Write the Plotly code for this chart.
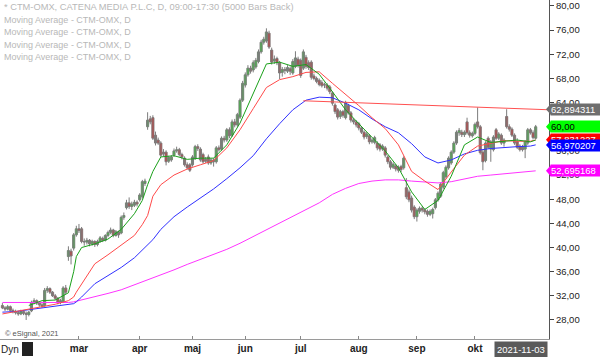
import pandas as pd
import plotly.graph_objects as go

# ---------------- categories (trading days) ----------------
holidays = ["2021-04-02", "2021-04-05", "2021-05-13", "2021-06-25"]
dates = [d.strftime("%Y-%m-%d") for d in pd.bdate_range("2021-01-19", "2021-11-03")
         if d.strftime("%Y-%m-%d") not in holidays]
future_dates = [d.strftime("%Y-%m-%d") for d in pd.bdate_range("2021-11-04", "2021-11-12")]

# ---------------- OHLC ----------------
opens = [30.4,30.0,29.8,30.2,29.6,29.4,29.2,29.0,29.4,29.1,28.9,29.5,30.9,31.2,30.8,30.5,30.4,32.9,33.2,32.6,
         32.0,31.6,30.9,31.0,33.3,38.5,39.4,39.9,42.1,43.1,43.1,41.0,40.9,41.2,40.6,41.0,40.5,41.0,41.5,41.2,
         42.0,42.5,42.9,42.0,42.6,42.4,45.0,46.6,47.4,46.8,47.0,47.5,47.9,48.4,50.6,60.0,61.3,61.5,58.6,57.8,
         57.3,55.8,55.8,54.3,54.5,55.3,56.0,56.2,55.4,54.8,53.7,53.7,53.7,54.8,56.7,56.3,55.4,54.6,55.0,54.0,
         54.5,54.2,56.5,56.3,58.1,57.8,59.5,58.6,60.8,60.3,61.6,64.4,66.9,68.6,69.7,69.4,69.9,70.8,72.4,74.0,
         74.2,75.5,72.7,70.9,71.3,70.6,69.0,69.5,69.2,69.6,68.9,70.0,71.2,71.0,69.7,71.5,70.6,70.7,68.4,68.0,
         67.7,67.3,67.0,66.9,66.6,65.6,63.6,62.8,61.7,62.5,61.5,63.5,62.3,61.1,60.8,60.5,59.8,59.1,58.4,58.5,
         57.5,57.4,57.3,57.0,56.3,56.5,55.0,54.2,53.3,53.5,53.3,53.4,53.2,49.9,49.2,48.2,46.7,45.1,46.0,46.5,
         46.2,46.0,45.5,45.6,46.6,47.9,48.5,50.0,51.7,53.2,54.0,55.8,57.3,59.0,59.1,58.7,60.8,59.0,58.5,58.9,
         60.8,60.0,55.8,54.4,58.1,56.3,56.2,59.5,58.1,58.6,57.3,61.7,60.0,59.6,58.6,57.6,56.8,56.7,56.3,57.3,
         59.5,59.0,58.1]
highs = [30.8,30.3,30.5,30.4,29.9,29.7,29.5,29.7,29.6,29.4,29.5,31.2,31.6,31.4,31.0,30.8,33.3,33.6,33.4,32.8,
         32.3,31.8,31.5,33.6,33.8,40.2,39.8,42.4,43.6,43.9,43.4,41.5,41.6,41.4,41.3,41.2,41.3,41.9,41.8,42.2,
         42.8,43.3,43.1,42.9,42.8,45.3,45.8,47.9,48.3,47.6,47.9,47.8,49.0,51.2,51.4,62.4,61.8,61.9,59.2,58.2,
         57.6,56.3,56.1,55.2,55.3,56.4,56.7,56.5,55.7,55.1,54.1,54.0,55.3,57.0,57.1,56.6,55.7,55.0,55.4,54.8,
         54.8,56.8,56.9,58.4,58.5,59.8,59.9,61.2,61.3,62.3,64.7,67.6,69.0,70.2,70.1,71.0,71.4,72.8,74.4,74.9,
         76.3,75.9,73.1,71.8,71.6,70.9,69.9,69.9,70.2,70.0,71.2,72.5,71.6,71.3,72.8,71.9,71.0,71.0,68.8,68.3,
         68.0,67.7,67.3,67.2,66.9,65.9,63.9,63.1,62.8,62.8,64.3,63.8,62.6,61.4,61.1,60.8,60.1,59.4,59.1,58.8,
         58.1,58.5,57.6,57.3,57.1,56.8,55.3,54.5,54.1,53.8,53.6,53.7,55.1,51.5,49.6,48.6,47.0,46.5,46.8,46.8,
         46.5,46.3,46.3,46.6,48.2,49.3,50.8,52.7,53.6,55.1,56.1,57.6,59.4,59.8,59.5,59.4,61.5,59.4,59.2,60.7,
         63.2,60.3,56.2,57.6,58.4,57.8,58.6,59.8,59.1,58.9,58.1,62.9,60.4,59.9,58.9,58.1,57.1,57.0,57.8,59.8,
         59.8,59.4,60.3]
lows = [29.8,29.5,29.6,29.4,29.1,28.9,28.7,28.8,28.8,28.0,28.6,29.3,30.6,30.5,30.2,30.0,30.2,32.5,32.3,31.8,
        31.3,30.6,30.6,30.8,32.3,37.8,37.2,39.5,41.8,42.4,40.7,40.3,40.5,40.2,40.3,40.1,40.2,40.8,40.9,41.0,
        41.7,42.2,41.7,41.8,41.6,42.2,44.6,46.3,46.4,46.2,46.7,46.8,47.6,48.1,50.2,59.5,60.4,57.8,56.9,57.0,
        55.0,55.1,53.6,54.0,54.2,55.0,55.7,55.1,54.6,53.4,52.9,52.5,53.4,54.5,56.0,54.2,53.9,54.0,53.7,53.7,
        53.4,53.9,55.9,56.0,57.4,57.5,58.1,58.3,59.9,60.0,61.3,64.1,66.5,68.3,68.8,69.0,69.6,70.5,72.1,73.6,
        73.9,72.9,70.3,70.4,70.2,67.9,68.3,68.7,68.9,68.6,68.6,69.7,69.8,68.1,69.4,69.6,69.4,67.8,67.7,67.2,
        66.7,66.5,66.4,66.0,65.4,63.5,62.1,61.2,61.3,61.5,61.2,62.0,60.7,60.4,59.9,59.4,58.8,57.9,58.0,57.1,
        57.2,57.1,56.1,55.9,56.0,54.9,53.8,52.9,53.0,52.6,52.4,52.5,52.9,48.0,47.5,45.8,44.7,44.3,45.6,45.8,
        45.5,45.1,45.2,44.8,46.3,47.6,48.2,49.7,51.4,52.9,53.7,55.5,57.0,58.5,58.3,58.3,58.7,58.2,58.2,58.6,
        59.7,55.4,52.8,54.1,56.3,54.2,55.9,57.8,57.8,57.0,56.7,59.7,59.2,58.3,57.0,56.3,55.9,55.9,54.8,57.0,
        58.7,57.9,57.9]
closes = [30.0,29.8,30.2,29.6,29.4,29.2,29.0,29.4,29.1,28.9,29.3,30.9,31.2,30.8,30.5,30.3,32.9,33.2,32.6,32.0,
          31.6,30.9,31.2,33.3,32.6,39.5,38.6,42.1,43.1,42.8,41.0,40.9,41.2,40.6,41.0,40.5,41.0,41.6,41.2,42.0,
          42.5,42.9,42.0,42.6,42.1,45.0,45.3,47.4,46.8,47.2,47.5,47.2,48.7,50.9,51.0,61.1,60.8,58.1,57.3,57.3,
          55.3,55.5,54.2,54.9,55.0,56.0,56.2,55.4,55.0,53.7,53.2,52.8,55.0,56.7,56.4,54.5,54.2,54.3,54.0,54.5,
          54.2,56.5,56.2,58.1,57.8,59.5,58.5,60.8,60.3,62.0,64.4,67.2,68.6,69.7,69.2,70.6,71.0,72.4,74.0,74.5,
          75.7,73.2,70.7,71.2,70.6,68.9,69.5,69.3,69.8,69.2,70.8,71.4,70.2,68.5,72.4,70.0,69.8,68.2,68.0,67.5,
          67.0,66.8,66.9,66.4,65.8,63.9,62.5,61.6,62.5,61.9,64.0,62.3,61.1,60.8,60.3,59.8,59.1,58.3,58.8,57.5,
          57.8,58.2,56.5,56.3,56.8,55.3,54.2,53.3,53.8,53.0,52.8,52.9,54.8,48.4,47.9,46.2,45.1,46.2,46.5,46.2,
          45.9,45.5,46.0,46.3,47.9,49.0,50.5,52.4,53.3,54.8,55.8,57.3,59.1,59.4,58.7,59.1,59.0,58.6,58.9,60.4,
          60.0,55.7,54.2,57.3,56.6,57.5,58.3,58.1,58.8,57.3,57.8,60.0,59.6,58.6,57.3,56.6,56.2,56.2,57.5,59.5,
          59.0,58.2,60.0]

# ---------------- moving averages ----------------
ma_dates = ["2021-01-19","2021-01-26","2021-02-02","2021-02-09","2021-02-16","2021-02-23","2021-02-25","2021-02-26",
            "2021-03-02","2021-03-09","2021-03-16","2021-03-23","2021-03-30","2021-04-06","2021-04-08","2021-04-12",
            "2021-04-15","2021-04-22","2021-04-29","2021-05-06","2021-05-14","2021-05-21","2021-05-28","2021-06-04",
            "2021-06-11","2021-06-18","2021-06-28","2021-07-05","2021-07-12","2021-07-19","2021-07-26","2021-08-02",
            "2021-08-09","2021-08-16","2021-08-23","2021-08-30","2021-09-06","2021-09-13","2021-09-20","2021-09-27",
            "2021-10-04","2021-10-11","2021-10-18","2021-10-25","2021-11-01","2021-11-03"]
ma_green = [None,None,30.4,31.2,31.3,32.5,36.0,38.5,40.0,40.6,41.4,43.0,45.6,47.8,50.4,52.6,
            55.0,55.2,54.6,54.8,54.8,57.0,60.6,65.5,70.4,70.7,70.0,70.3,68.7,65.8,62.8,60.5,
            58.2,56.0,53.2,49.2,46.3,47.8,51.8,57.0,58.3,57.4,57.6,57.8,57.5,57.8]
ma_red = [29.0,29.4,29.8,30.2,30.6,31.2,31.8,32.6,34.0,37.3,38.8,40.4,42.0,43.8,45.3,48.5,
          50.4,52.0,53.0,53.7,54.4,56.5,59.5,63.0,66.5,67.8,68.3,69.0,69.1,67.2,65.4,63.5,
          61.5,59.7,57.0,52.6,51.0,49.6,52.5,55.3,56.8,57.3,57.7,57.6,57.6,57.8]
ma_blue = [29.3,29.4,29.7,30.0,30.2,30.5,30.7,31.0,31.8,34.0,35.3,36.7,38.3,39.6,40.3,41.3,
           43.0,45.1,46.7,48.2,49.7,51.4,53.2,55.2,58.0,60.5,62.8,64.4,64.9,64.8,63.9,62.8,
           61.3,60.0,59.0,57.2,55.0,54.0,54.5,55.5,56.1,56.4,56.6,56.7,56.8,57.0]
ma_magenta = [30.9,30.9,30.9,30.8,30.8,30.9,31.0,31.1,31.4,31.9,32.4,33.0,33.8,34.3,34.6,35.0,
              35.4,36.3,37.2,38.0,38.8,39.7,40.7,41.8,42.9,44.0,45.1,46.2,47.4,48.8,49.8,50.6,
              51.0,51.2,51.2,51.0,50.8,50.7,50.9,51.4,51.8,52.0,52.2,52.4,52.6,52.7]

# trend line
trend_dates = ["2021-07-02", "2021-11-10"]
trend_vals = [64.3, 62.81]

# axis labels
y_ticks = [28, 32, 36, 40, 44, 48, 52, 56, 60, 64, 68, 72, 76, 80]
month_dates = ["2021-03-01","2021-04-01","2021-05-03","2021-06-01","2021-07-01","2021-08-02","2021-09-01","2021-10-01"]
month_names = ["mar","apr","maj","jun","jul","aug","sep","okt"]

# right side value boxes
box_vals = [62.894311, 60.00, 57.831227, 56.970207, 52.695168]
box_texts = ["62,894311", "60,00", "57,831227", "56,970207", "52,695168"]
box_bg = ["#6e6e6e", "#00ff00", "#ff0000", "#0000ff", "#ff00ff"]
box_fg = ["white", "black", "white", "white", "white"]

legend_lines = ["* CTM-OMX, CATENA MEDIA P.L.C, D, 09:00-17:30 (5000 Bars Back)",
                "Moving Average - CTM-OMX, D", "Moving Average - CTM-OMX, D",
                "Moving Average - CTM-OMX, D", "Moving Average - CTM-OMX, D"]
legend_sizes = [9.3, 9, 9, 9, 9]

FONT = "Liberation Sans, Arial, sans-serif"

fig = go.Figure()

# wicks
wx, wy = [], []
for d, h, l in zip(dates, highs, lows):
    wx += [d, d, None]
    wy += [l, h, None]
fig.add_trace(go.Scatter(x=wx, y=wy, mode="lines", line=dict(color="#7c7c7c", width=1),
                         hoverinfo="skip", showlegend=False))
# bodies
body_base = [min(o, c) for o, c in zip(opens, closes)]
body_len = [max(abs(c - o), 0.08) for o, c in zip(opens, closes)]
body_col = ["#00ff00" if c >= o else "#ff0000" for o, c in zip(opens, closes)]
fig.add_trace(go.Bar(x=dates, y=body_len, base=body_base, width=0.8,
                     marker=dict(color=body_col, line=dict(color="#7c7c7c", width=1)),
                     hoverinfo="skip", showlegend=False))

for vals, col in [(ma_magenta, "#ff33ff"), (ma_blue, "#3030ff"), (ma_red, "#ff4a4a"), (ma_green, "#1aa01a")]:
    fig.add_trace(go.Scatter(x=ma_dates, y=vals, mode="lines", line=dict(color=col, width=1),
                             connectgaps=False, hoverinfo="skip", showlegend=False))

fig.add_trace(go.Scatter(x=trend_dates, y=trend_vals, mode="lines",
                         line=dict(color="#ff5050", width=1), hoverinfo="skip", showlegend=False))

all_cats = dates + future_dates

fig.update_layout(
    width=600, height=357,
    margin=dict(l=0, r=51, t=0, b=18, autoexpand=False),
    paper_bgcolor="white", plot_bgcolor="white",
    font=dict(family=FONT, size=10, color="#222"),
    bargap=0, barmode="overlay",
    xaxis=dict(type="category", categoryorder="array", categoryarray=all_cats,
               range=[-0.91, 207.04], rangeslider=dict(visible=False), automargin=False,
               tickmode="array", tickvals=month_dates, ticktext=month_names,
               ticks="inside", ticklen=3, tickcolor="#888", ticklabelstandoff=0,
               tickfont=dict(family=FONT, size=10, color="#222", weight="bold"),
               showgrid=False, showline=True, linecolor="#9a9a9a", linewidth=1,
               zeroline=False, fixedrange=True),
    yaxis=dict(side="right", range=[24.85, 80.99], tickmode="array", tickvals=y_ticks,
               ticktext=[f"{v},00" for v in y_ticks], ticks="outside", ticklen=4, automargin=False,
               tickcolor="#444", tickfont=dict(family=FONT, size=9.5, color="#222"),
               showgrid=False, showline=True, linecolor="#555", linewidth=1,
               zeroline=False, fixedrange=True),
)

ann = []
for k, (t, s) in enumerate(zip(legend_lines, legend_sizes)):
    ann.append(dict(xref="paper", yref="paper", x=0.004, y=1 - (7 + 12.6 * k) / 339, text=t,
                    showarrow=False, xanchor="left", yanchor="middle",
                    font=dict(family=FONT, size=s, color="#b8b8b8")))
shapes = []
for v, t, bg, fg in zip(box_vals, box_texts, box_bg, box_fg):
    # little arrow notch on the left of each value box
    shapes.append(dict(type="path", xref="paper", yref="y", layer="above",
                       path=f"M {546/549},{v} L {551/549},{v + 0.95} L {551/549},{v - 0.95} Z",
                       fillcolor=bg, line=dict(width=0)))
    ann.append(dict(xref="paper", yref="y", x=1.0, y=v, text=t, showarrow=False,
                    xanchor="left", yanchor="middle", align="left", width=49, height=11,
                    bgcolor=bg, borderpad=0, xshift=1,
                    font=dict(family=FONT, size=9.5, color=fg)))
ann.append(dict(xref="paper", yref="paper", x=0.005, y=(339 - 333) / 339, text="© eSignal, 2021",
                showarrow=False, xanchor="left", yanchor="middle",
                font=dict(family=FONT, size=7.5, color="#555")))
ann.append(dict(xref="paper", yref="paper", x=548 / 549, y=(339 - 349) / 339, text="2021-11-03",
                showarrow=False, xanchor="right", yanchor="middle", bgcolor="#5a5a5a",
                borderpad=2, font=dict(family=FONT, size=9.5, color="white")))
ann.append(dict(xref="paper", yref="paper", x=-0.002, y=(339 - 349) / 339, text="Dyn",
                showarrow=False, xanchor="left", yanchor="middle",
                font=dict(family=FONT, size=10, color="#222")))
shapes.append(dict(type="rect", xref="paper", yref="paper", x0=22 / 549, x1=33 / 549,
                   y0=(339 - 342) / 339, y1=(339 - 356) / 339, fillcolor="#222", line=dict(width=0)))
fig.update_layout(annotations=ann, shapes=shapes)

fig.write_html("out.html", config={"displayModeBar": False, "staticPlot": True},
               post_script="document.body.style.margin='0';document.body.style.overflow='hidden';")
